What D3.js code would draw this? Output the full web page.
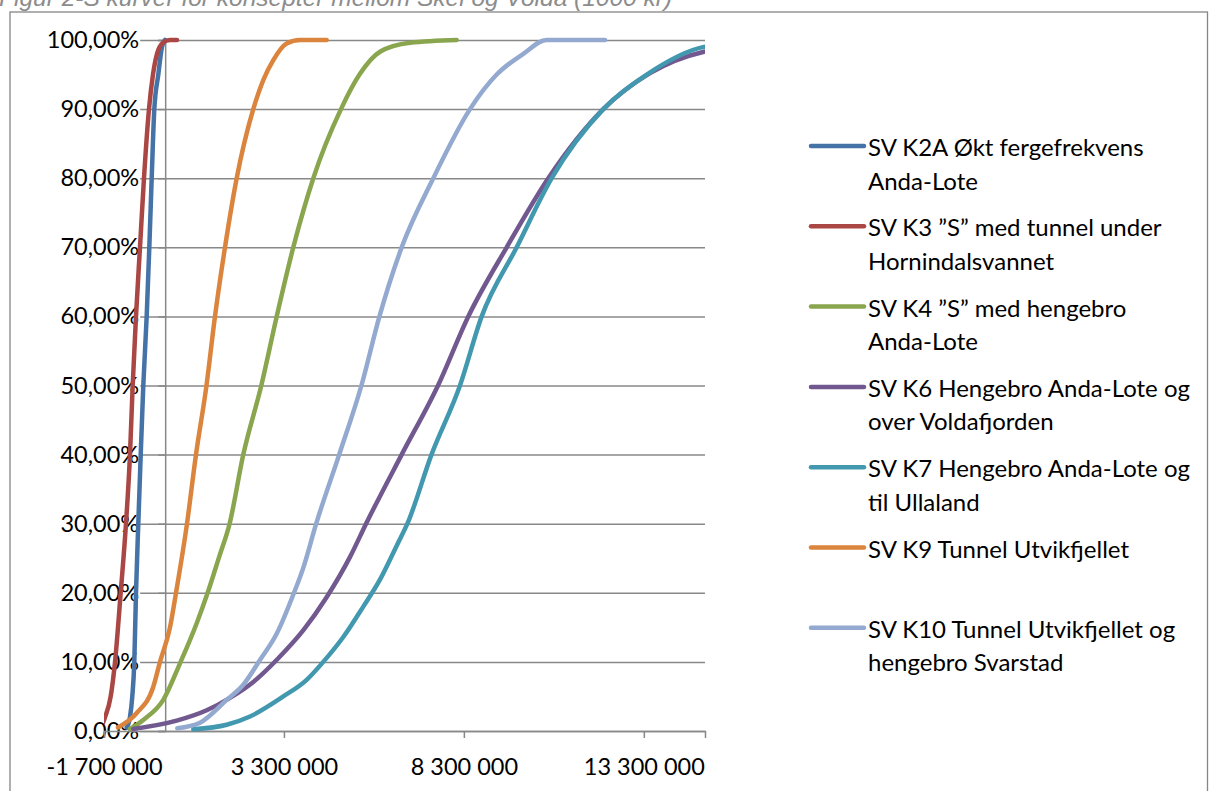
<!DOCTYPE html>
<html>
<head>
<meta charset="utf-8">
<script src="https://cdn.jsdelivr.net/npm/d3@7"></script>
<style>
  html, body { margin: 0; padding: 0; background: #fff; }
  svg { display: block; }
  text { font-family: "Lato", "Open Sans", sans-serif; }
</style>
</head>
<body>
<svg id="chart" width="1209" height="791"></svg>
<script>
// ---------- DATA ----------
const titleText = "Figur 2-S kurver for konsepter mellom Skei og Volda (1000 kr)";

const seriesNames = [
  ["SV K2A Økt fergefrekvens", "Anda-Lote"],
  ["SV K3 \u201DS\u201D med tunnel under", "Hornindalsvannet"],
  ["SV K4 \u201DS\u201D med hengebro", "Anda-Lote"],
  ["SV K6 Hengebro Anda-Lote og", "over Voldafjorden"],
  ["SV K7 Hengebro Anda-Lote og", "til Ullaland"],
  ["SV K9 Tunnel Utvikfjellet"],
  ["SV K10 Tunnel Utvikfjellet og", "hengebro Svarstad"]
];
const seriesColors = ["#4572A7", "#AA4643", "#89A54E", "#71588F", "#4198AF", "#DB843D", "#93A9CF"];

// [value, cumulative probability]
const k2a = [[-1069000,0.005],[-978000,0.02],[-914000,0.05],[-858000,0.10],[-811000,0.20],[-747000,0.30],[-680000,0.40],[-608000,0.50],[-514000,0.60],[-441000,0.70],[-375000,0.80],[-302000,0.90],[-191000,0.95],[-89000,0.99],[-6000,1.00]];
const k3 = [[-1756000,0.008],[-1672000,0.02],[-1514000,0.05],[-1394000,0.10],[-1236000,0.20],[-1089000,0.30],[-978000,0.40],[-903000,0.50],[-811000,0.60],[-700000,0.70],[-589000,0.80],[-450000,0.90],[-339000,0.95],[-227000,0.98],[-61000,0.996],[134000,1.00],[328000,1.00]];
const k4 = [[-978000,0.003],[-608000,0.016],[-53000,0.045],[412000,0.098],[876000,0.156],[1180000,0.20],[1500000,0.252],[1790000,0.30],[2170000,0.40],[2671000,0.50],[3099000,0.60],[3560000,0.70],[4116000,0.80],[4885000,0.90],[5413000,0.951],[5969000,0.983],[6803000,0.996],[8100000,1.00]];
const k6 = [[-886000,0.003],[320000,0.015],[1154000,0.03],[1801000,0.048],[2449000,0.071],[3136000,0.105],[3840000,0.146],[4490000,0.194],[5137000,0.252],[5582000,0.30],[6572000,0.40],[7581000,0.50],[8423000,0.60],[9490000,0.70],[10646000,0.80],[12174000,0.90],[13472000,0.952],[14972000,0.983],[15556000,0.988]];
const k7 = [[781000,0.0025],[1709000,0.009],[2357000,0.021],[3282000,0.05],[3932000,0.074],[4393000,0.10],[4949000,0.136],[5504000,0.18],[5968000,0.219],[6450000,0.270],[6730000,0.30],[7400000,0.40],[8192000,0.50],[8795000,0.60],[9767000,0.70],[10740000,0.80],[12174000,0.90],[13380000,0.95],[14972000,0.99],[15556000,0.993]];
const k9 = [[-1311000,0.005],[-791000,0.026],[-330000,0.064],[-144000,0.10],[134000,0.15],[301000,0.20],[606000,0.30],[856000,0.40],[1148000,0.50],[1384000,0.60],[1662000,0.70],[1987000,0.80],[2448000,0.90],[2726000,0.942],[3004000,0.971],[3376000,0.995],[3746000,1.00],[4488000,1.00]];
const k10 = [[337000,0.004],[967000,0.012],[1709000,0.045],[2171000,0.067],[2638000,0.103],[3101000,0.141],[3580000,0.20],[3830000,0.235],[4196000,0.30],[4835000,0.40],[5453000,0.50],[5954000,0.60],[6572000,0.70],[7450000,0.80],[8470000,0.90],[9211000,0.95],[9951000,0.98],[10602000,1.00],[12222000,1.00]];

const seriesData = [k2a, k3, k4, k6, k7, k9, k10];
const drawOrder = [0, 1, 2, 3, 4, 5, 6];

const xDomain = [-1700000, 15000000];
const xTickValues = [-1700000, 3300000, 8300000, 13300000];
const yTickValues = [0, 0.1, 0.2, 0.3, 0.4, 0.5, 0.6, 0.7, 0.8, 0.9, 1.0];

// ---------- LAYOUT ----------
const svg = d3.select("#chart");
const plot = { left: 104, right: 705, top: 40, bottom: 731 };
const gridColor = "#888888";
const fontSize = 23.5;

const loc = d3.formatLocale({ decimal: ",", thousands: "\u00A0", grouping: [3], currency: ["", " kr"], minus: "-" });
const fmtX = loc.format(",.0f");
const fmtY = loc.format(".2%");

const x = d3.scaleLinear().domain(xDomain).range([plot.left, plot.right]);
const y = d3.scaleLinear().domain([0, 1]).range([plot.bottom, plot.top]);

// Outer chart border
svg.append("rect")
  .attr("x", 10).attr("y", 12)
  .attr("width", 1197.5).attr("height", 800)
  .attr("fill", "none").attr("stroke", "#868686").attr("stroke-width", 1.3);

// Title (partly cut off at the top, as in the reference)
svg.append("text")
  .attr("x", -1).attr("y", 6)
  .style("font-family", "'Liberation Sans', Arial, sans-serif")
  .attr("font-style", "italic")
  .attr("font-size", 24.5)
  .attr("fill", "#8c8c8c")
  .text(titleText);

// Horizontal gridlines
svg.append("g")
  .attr("transform", `translate(${plot.left},0)`)
  .call(d3.axisLeft(y).tickValues(yTickValues).tickSize(-(plot.right - plot.left)).tickFormat(""))
  .call(g => g.select(".domain").remove())
  .call(g => g.selectAll("line").attr("stroke", gridColor).attr("stroke-width", 1.5));

// Y axis line at x = 0
const yAxisG = svg.append("g")
  .attr("transform", `translate(${x(0)},0)`)
  .call(d3.axisLeft(y).tickValues(yTickValues).tickSize(7).tickPadding(19).tickFormat(fmtY));
yAxisG.select(".domain").attr("stroke", gridColor).attr("stroke-width", 1.5);
yAxisG.selectAll(".tick line").attr("stroke", gridColor).attr("stroke-width", 1.5);

// X axis at y = 0
const xAxisG = svg.append("g")
  .attr("transform", `translate(0,${y(0)})`)
  .call(d3.axisBottom(x).tickValues(xTickValues).tickSize(7).tickPadding(20).tickFormat(fmtX));
xAxisG.select(".domain").attr("stroke", gridColor).attr("stroke-width", 1.5);
xAxisG.selectAll(".tick line").attr("stroke", gridColor).attr("stroke-width", 1.5);

[yAxisG, xAxisG].forEach(g => {
  g.attr("font-family", null).attr("font-size", null);
  g.selectAll(".tick text")
    .attr("fill", "#000")
    .style("font-family", "Lato, 'Open Sans', sans-serif")
    .style("font-size", fontSize + "px");
});

// white backgrounds behind y labels (they hide the gridlines)
yAxisG.selectAll(".tick").each(function () {
  const t = d3.select(this).select("text");
  const bb = t.node().getBBox();
  d3.select(this).insert("rect", "text")
    .attr("x", bb.x - 2).attr("y", bb.y + 3)
    .attr("width", bb.width + 3).attr("height", bb.height - 6)
    .attr("fill", "#fff");
});

// Clip for the lines
svg.append("clipPath").attr("id", "plotClip")
  .append("rect")
  .attr("x", plot.left).attr("y", plot.top - 10)
  .attr("width", plot.right - plot.left).attr("height", plot.bottom - plot.top + 20);

const line = d3.line()
  .x(d => x(d[0]))
  .y(d => y(d[1]))
  .curve(d3.curveMonotoneX);

const linesG = svg.append("g").attr("clip-path", "url(#plotClip)");
drawOrder.forEach(i => {
  linesG.append("path")
    .datum(seriesData[i])
    .attr("d", line)
    .attr("fill", "none")
    .attr("stroke", seriesColors[i])
    .attr("stroke-width", 4.5)
    .attr("stroke-linecap", "round")
    .attr("stroke-linejoin", "round");
});

// Legend
const legend = svg.append("g");
const legTop = 146, legStep = 80.3, lineH = 33.5;
seriesNames.forEach((lines, i) => {
  const gy = legTop + i * legStep;
  legend.append("line")
    .attr("x1", 811).attr("x2", 864)
    .attr("y1", gy).attr("y2", gy)
    .attr("stroke", seriesColors[i]).attr("stroke-width", 4.5)
    .attr("stroke-linecap", "round");
  const t = legend.append("text")
    .attr("x", 868).attr("y", gy)
    .attr("dominant-baseline", "central")
    .style("font-size", (fontSize + 0.5) + "px")
    .attr("fill", "#000");
  lines.forEach((s, k) => {
    t.append("tspan").attr("x", 868).attr("y", gy + k * lineH).text(s);
  });
});
</script>
</body>
</html>
